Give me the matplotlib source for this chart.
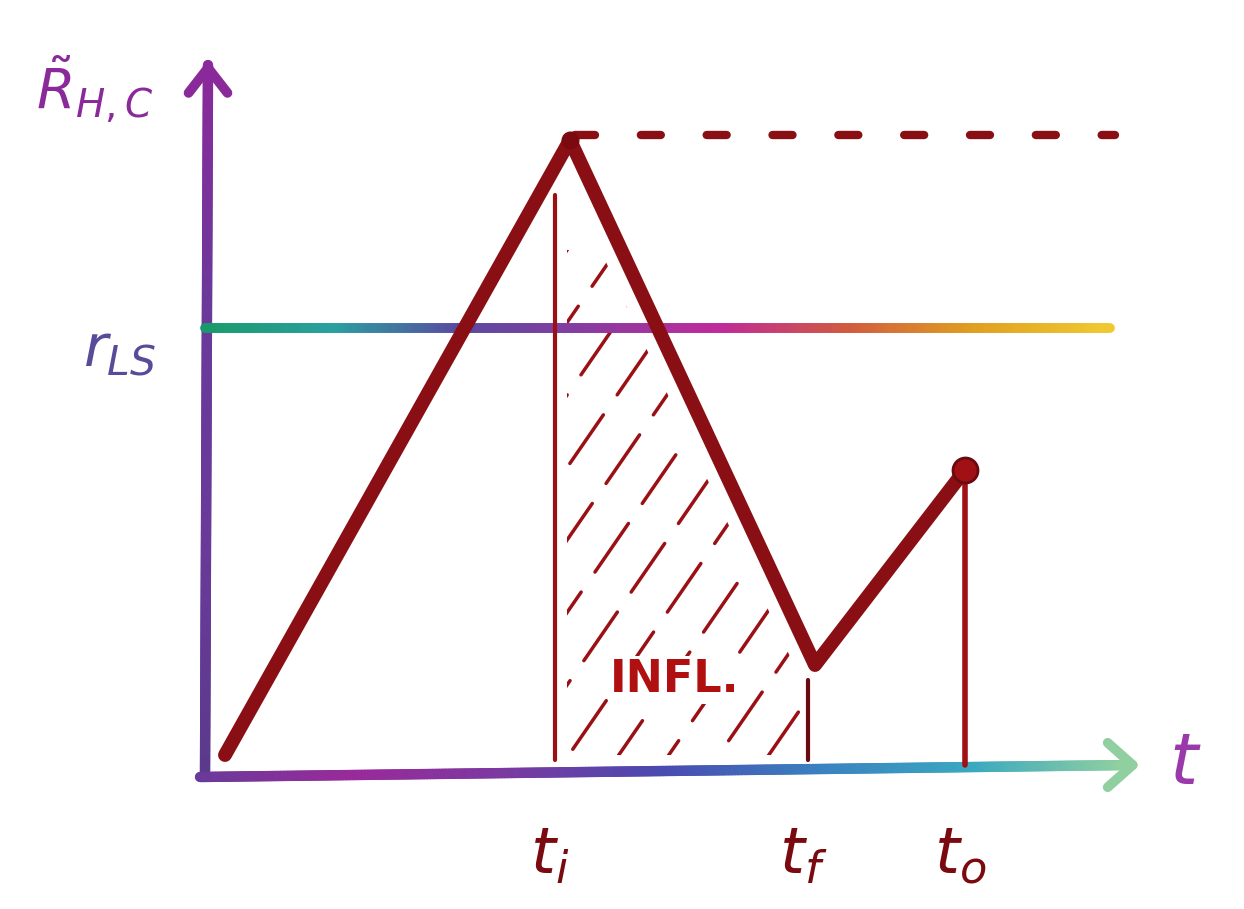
import numpy as np
import matplotlib.pyplot as plt
from matplotlib.collections import LineCollection
from matplotlib.colors import LinearSegmentedColormap
from matplotlib.patches import Polygon

# sketch data (arbitrary units)
curve_t = [0.25, 3.7, 6.15, 7.65]
curve_r = [0.2, 6.35, 1.1, 3.05]
r_ls = 4.47
r_max = 6.4
t_i, t_f, t_o = 3.55, 6.08, 7.65
tick_names = [r'$t_i$', r'$t_f$', r'$t_o$']

DARK_RED = '#8a0f14'


def grad_line(ax, x0, x1, y0, y1, colors, lw, n=300, z=2):
    xs = np.linspace(x0, x1, n)
    ys = np.linspace(y0, y1, n)
    pts = np.array([xs, ys]).T.reshape(-1, 1, 2)
    segs = np.concatenate([pts[:-1], pts[1:]], axis=1)
    cmap = LinearSegmentedColormap.from_list('g', colors)
    lc = LineCollection(segs, cmap=cmap, linewidth=lw, capstyle='round', zorder=z)
    lc.set_array(np.linspace(0, 1, n - 1))
    ax.add_collection(lc)
    return lc


fig = plt.figure(figsize=(12.44, 9.09), dpi=100)
ax = fig.add_axes([0, 0, 1, 1])
ax.set_xlim(-2.0, 10.44)
ax.set_ylim(-1.34, 7.75)
ax.axis('off')

# axes
grad_line(ax, 0.05, 0.08, 0.0, 7.1, ['#5a3a8a', '#6a3a9a', '#6a3a9a', '#8a2a9a'], 7.5)
ax.annotate('', xy=(0.08, 7.15), xytext=(0.08, 6.95),
            arrowprops=dict(arrowstyle='->,head_length=0.45,head_width=0.35',
                            color='#8a2a9a', lw=7, mutation_scale=40,
                            shrinkA=0, shrinkB=0))
grad_line(ax, 0.0, 9.3, -0.02, 0.1,
          ['#6a3a9a', '#9a2a9a', '#7a3aa0', '#4a4ab0', '#3a80c0', '#3aa8c0', '#90d0a0'], 7.5)
ax.annotate('', xy=(9.4, 0.1), xytext=(9.2, 0.1),
            arrowprops=dict(arrowstyle='->,head_length=0.45,head_width=0.4',
                            color='#90d0a0', lw=7, mutation_scale=40,
                            shrinkA=0, shrinkB=0))

# r_LS line
grad_line(ax, 0.05, 9.1, r_ls, r_ls,
          ['#1a9a6a', '#2aa0a0', '#5a4aa0', '#8a3aa0', '#c02a9a', '#d05a40', '#e0a020', '#f0c830'],
          7, z=3)

# hatched influence region
hx = np.linspace(t_i + 0.12, t_f, 100)
hy = np.minimum(np.interp(hx, curve_t, curve_r) - 0.45, 5.25)
poly = np.vstack([[[t_i + 0.12, 0.2]], np.column_stack([hx, hy]), [[t_f, 0.2]]])
clip = Polygon(poly, closed=True, facecolor='none', edgecolor='none')
ax.add_patch(clip)
slope = 1.45
hatch = []
styles = []
for k, c in enumerate(np.arange(t_i - 4.5, t_f + 0.5, 0.5)):
    hatch.append([(c, 0.0), (c + 6.5 / slope, 6.5)])
    styles.append(((k * 7) % 24, (17, 7)))
hl = LineCollection(hatch, colors='#9a1015', linewidths=2.5,
                    linestyles=styles, capstyle='round', zorder=2)
hl.set_clip_path(clip)
ax.add_collection(hl)

# vertical markers
ax.plot([t_i, t_i], [0.15, 5.8], color='#9a1015', lw=3, solid_capstyle='round', zorder=4)
ax.plot([t_f, t_f], [0.15, 0.95], color='#6a0a10', lw=3, solid_capstyle='round', zorder=4)
ax.plot([t_o, t_o], [0.1, curve_r[-1]], color='#a01015', lw=4, solid_capstyle='round', zorder=4)

# max dashed line
ax.plot([curve_t[1] + 0.05, 9.15], [r_max, r_max], color=DARK_RED, lw=6,
        linestyle=(0, (2.4, 5.5)), dash_capstyle='round', zorder=4)

# main curve
ax.plot(curve_t, curve_r, color=DARK_RED, lw=10, solid_capstyle='round',
        solid_joinstyle='round', zorder=5)
ax.plot(curve_t[1], curve_r[1], 'o', color='#7a0a10', ms=12, zorder=6)
ax.plot(curve_t[-1], curve_r[-1], 'o', color='#a01015', ms=18,
        markeredgecolor='#6a0a10', markeredgewidth=2, zorder=6)

# labels
plt.rcParams['mathtext.fontset'] = 'dejavusans'
ax.text(-1.05, 6.85, r'$\tilde{R}_{H,C}$', fontsize=40, color='#8a2a9a',
        ha='center', va='center', fontweight='bold')
ax.text(-0.8, 4.25, r'$r_{LS}$', fontsize=42, color='#5a4a9a',
        ha='center', va='center')
for x, s in zip([t_i, t_f, t_o], tick_names):
    ax.text(x - 0.05, -0.8, s, fontsize=46, color='#7a0a10', ha='center', va='center')
ax.text(9.85, 0.1, r'$t$', fontsize=52, color='#9a3aaa', ha='center', va='center')
ax.text(4.75, 0.95, 'INFL.', fontsize=32, color='#b01010', ha='center', va='center',
        fontweight='bold', zorder=7,
        bbox=dict(facecolor='white', edgecolor='none', pad=2))

fig.savefig('out.png', dpi=100)
